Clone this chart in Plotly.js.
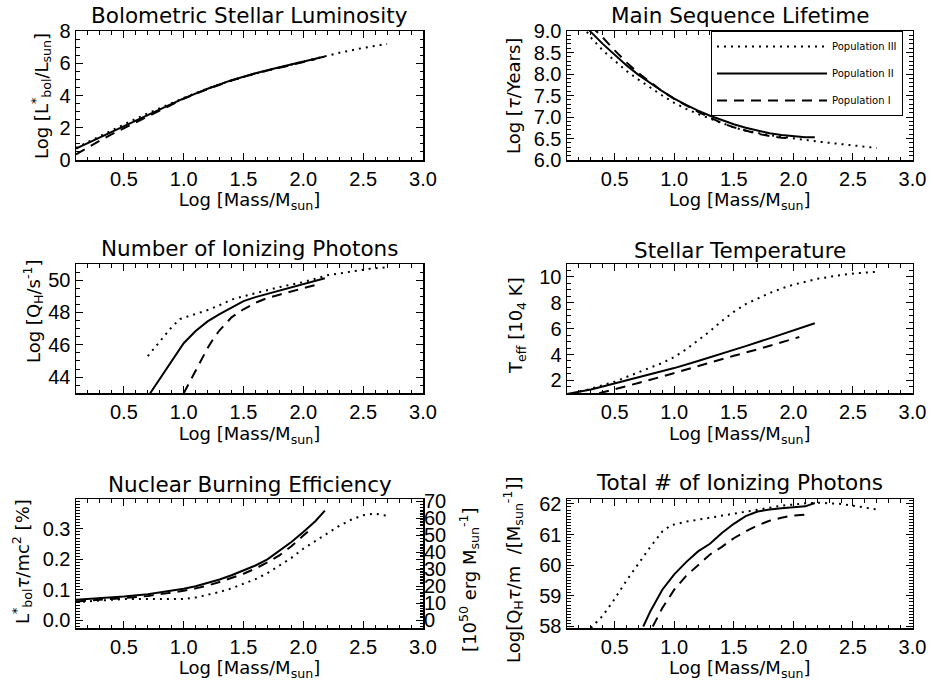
<!DOCTYPE html>
<html>
<head>
<meta charset="utf-8">
<script src="https://cdn.plot.ly/plotly-3.0.1.min.js"></script>
<style>html,body{margin:0;padding:0;background:#fff;}#chart{width:932px;height:687px;}</style>
</head>
<body>
<div id="chart"></div>
<script>
// ---------- DATA (x = Log[Mass/Msun]) ----------
// Panel 1: Bolometric stellar luminosity, Log[L/Lsun]
const lumX_III = [0.1,0.3,0.5,0.7,0.9,1.1,1.3,1.5,1.7,1.9,2.1,2.3,2.5,2.7];
const lumY_III = [0.75,1.5,2.2,2.9,3.55,4.15,4.7,5.15,5.55,5.92,6.27,6.65,6.95,7.2];
const lumX_II  = [0.1,0.2,0.3,0.4,0.5,0.6,0.7,0.8,0.9,1.0,1.2,1.4,1.6,1.8,2.0,2.18];
const lumY_II  = [0.7,1.05,1.42,1.78,2.12,2.46,2.8,3.14,3.48,3.82,4.42,4.95,5.38,5.75,6.1,6.42];
const lumX_I   = [0.1,0.2,0.3,0.4,0.5,0.6,0.7,0.8,0.9,1.0,1.2,1.4,1.6,1.8,2.0,2.1];
const lumY_I   = [0.35,0.8,1.2,1.6,1.97,2.35,2.72,3.08,3.44,3.8,4.4,4.93,5.37,5.74,6.08,6.25];

// Panel 2: Main sequence lifetime, Log[tau/yr]
const tauX_III = [0.2,0.3,0.4,0.5,0.6,0.7,0.8,0.9,1.0,1.1,1.2,1.3,1.4,1.5,1.6,1.8,2.0,2.2,2.4,2.6,2.7];
const tauY_III = [9.25,8.85,8.55,8.3,8.07,7.87,7.68,7.5,7.33,7.19,7.07,6.96,6.86,6.76,6.68,6.58,6.5,6.43,6.37,6.31,6.28];
const tauX_II  = [0.2,0.3,0.4,0.5,0.6,0.7,0.8,0.9,1.0,1.1,1.2,1.3,1.4,1.5,1.6,1.7,1.8,1.9,2.0,2.1,2.18];
const tauY_II  = [9.3,8.98,8.7,8.44,8.2,7.98,7.78,7.6,7.43,7.28,7.15,7.03,6.93,6.83,6.75,6.68,6.62,6.58,6.55,6.53,6.53];
const tauX_I   = [0.3,0.4,0.5,0.6,0.7,0.8,0.9,1.0,1.1,1.2,1.3,1.4,1.5,1.6,1.7,1.8,1.9,2.0];
const tauY_I   = [9.12,8.85,8.55,8.27,8.02,7.8,7.6,7.42,7.26,7.12,6.99,6.86,6.76,6.68,6.61,6.56,6.52,6.5];

// Panel 3: Number of ionizing photons, Log[Q_H/s^-1]
const qX_III = [0.7,0.8,0.9,0.97,1.1,1.2,1.3,1.4,1.5,1.6,1.7,1.8,1.9,2.0,2.2,2.4,2.55,2.7];
const qY_III = [45.3,46.2,47.1,47.6,47.9,48.15,48.45,48.8,49.0,49.2,49.4,49.57,49.73,49.88,50.3,50.55,50.7,50.8];
const qX_II  = [0.72,0.8,0.9,1.0,1.1,1.2,1.3,1.4,1.5,1.6,1.7,1.8,1.9,2.0,2.1,2.18];
const qY_II  = [43.0,43.9,45.0,46.1,46.85,47.45,47.9,48.3,48.7,48.95,49.15,49.35,49.55,49.72,49.92,50.12];
const qX_I   = [1.0,1.05,1.1,1.15,1.2,1.25,1.3,1.4,1.5,1.6,1.7,1.8,1.9,2.0,2.1];
const qY_I   = [43.0,43.7,44.4,45.1,45.8,46.4,46.9,47.7,48.2,48.6,48.9,49.1,49.3,49.5,49.7];

// Panel 4: Stellar temperature, T_eff [10^4 K]
const tX_III = [0.15,0.3,0.5,0.7,0.9,1.0,1.1,1.2,1.3,1.4,1.5,1.6,1.7,1.8,1.9,2.0,2.2,2.4,2.55,2.7];
const tY_III = [1.0,1.35,1.9,2.6,3.35,3.8,4.4,5.1,5.8,6.6,7.3,7.9,8.35,8.75,9.1,9.4,9.85,10.15,10.3,10.4];
const tX_II  = [0.1,0.2,0.3,0.4,0.5,0.6,0.7,0.8,0.9,1.0,1.2,1.4,1.6,1.8,2.0,2.18];
const tY_II  = [0.95,1.1,1.3,1.52,1.75,2.0,2.25,2.5,2.73,2.95,3.5,4.05,4.65,5.25,5.85,6.42];
const tX_I   = [0.37,0.5,0.7,0.9,1.1,1.3,1.5,1.7,1.9,2.05];
const tY_I   = [1.0,1.3,1.8,2.3,2.85,3.35,3.9,4.4,4.95,5.35];

// Panel 5: Nuclear burning efficiency, L*tau/mc^2 [%]
const eX_III = [0.1,0.3,0.5,0.7,0.9,1.0,1.1,1.2,1.3,1.4,1.5,1.6,1.7,1.8,1.9,2.0,2.1,2.2,2.3,2.4,2.5,2.6,2.7];
const eY_III = [0.06,0.066,0.07,0.07,0.069,0.07,0.075,0.083,0.093,0.105,0.12,0.135,0.155,0.18,0.205,0.235,0.26,0.285,0.31,0.33,0.345,0.35,0.343];
const eX_II  = [0.1,0.3,0.5,0.7,0.9,1.0,1.1,1.2,1.3,1.4,1.5,1.6,1.7,1.8,1.9,2.0,2.1,2.18];
const eY_II  = [0.068,0.072,0.078,0.086,0.097,0.104,0.112,0.122,0.134,0.148,0.163,0.18,0.2,0.228,0.257,0.29,0.325,0.36];
const eX_I   = [0.1,0.3,0.5,0.7,0.9,1.0,1.1,1.2,1.3,1.4,1.5,1.6,1.7,1.8,1.9,2.0,2.05];
const eY_I   = [0.062,0.067,0.073,0.08,0.09,0.097,0.105,0.114,0.126,0.139,0.153,0.17,0.19,0.213,0.243,0.278,0.295];
const effToErg = 178.9; // 1% of Msun c^2 = 178.9 x 1e50 erg

// Panel 6: Total number of ionizing photons, Log[Q_H tau / m]
const nX_III = [0.3,0.4,0.5,0.6,0.7,0.8,0.9,0.97,1.1,1.3,1.5,1.7,1.9,2.1,2.2,2.4,2.55,2.7];
const nY_III = [57.95,58.35,58.9,59.5,60.05,60.6,61.1,61.3,61.42,61.55,61.68,61.82,61.94,62.02,62.04,62.0,61.9,61.82];
const nX_II  = [0.74,0.8,0.9,1.0,1.1,1.2,1.3,1.4,1.5,1.6,1.7,1.8,1.9,2.0,2.1,2.18];
const nY_II  = [58.0,58.5,59.2,59.7,60.1,60.45,60.7,61.05,61.35,61.6,61.75,61.82,61.86,61.88,61.92,62.03];
const nX_I   = [0.82,0.9,1.0,1.1,1.2,1.3,1.4,1.5,1.6,1.7,1.8,1.9,2.0,2.1];
const nY_I   = [58.0,58.6,59.2,59.65,60.0,60.35,60.6,60.88,61.1,61.3,61.45,61.55,61.62,61.65];

const popNames = ['Population III','Population II','Population I'];

// ---------- STYLES ----------
const styles = [
  {color:'black', width:2, dash:'2px,5px'},
  {color:'black', width:2, dash:'solid'},
  {color:'black', width:2, dash:'10px,7px'}
];

const panels = [
  {xs:[lumX_III,lumX_II,lumX_I], ys:[lumY_III,lumY_II,lumY_I], ax:''},
  {xs:[tauX_III,tauX_II,tauX_I], ys:[tauY_III,tauY_II,tauY_I], ax:'2', legend:true},
  {xs:[qX_III,qX_II,qX_I], ys:[qY_III,qY_II,qY_I], ax:'3'},
  {xs:[tX_III,tX_II,tX_I], ys:[tY_III,tY_II,tY_I], ax:'4'},
  {xs:[eX_III,eX_II,eX_I], ys:[eY_III,eY_II,eY_I], ax:'5'},
  {xs:[nX_III,nX_II,nX_I], ys:[nY_III,nY_II,nY_I], ax:'6'}
];

const traces = [];
panels.forEach(p => {
  for (let i = 0; i < 3; i++) {
    traces.push({
      type:'scatter', mode:'lines',
      x:p.xs[i], y:p.ys[i],
      xaxis:'x'+p.ax, yaxis:'y'+p.ax,
      name:popNames[i], showlegend:!!p.legend,
      legendgroup:'g'+i,
      line:styles[i]
    });
  }
});
// efficiency in 1e50 erg per Msun, carried by the right-hand axis of panel 5 (transparent)
traces.push({
  type:'scatter', mode:'lines', x:eX_II, y:eY_II.map(v => v * effToErg),
  xaxis:'x7', yaxis:'y7', showlegend:false, opacity:0,
  line:{color:'black', width:0.1}
});

// ---------- LAYOUT ----------
const W = 932, H = 687;
const px = v => v / W, py = v => 1 - v / H;
const colX = [[px(76), px(423)], [px(567), px(912.5)]];
const rowY = [[py(160), py(31)], [py(393.3), py(264)], [py(628), py(499.3)]];

const tickFont = {family:'Liberation Sans, Arial, sans-serif', size:20, color:'black'};
const titleFont = {family:'DejaVu Sans, sans-serif', size:21.5, color:'black'};
const axFont = {family:'DejaVu Sans, sans-serif', size:18, color:'black'};

function xAxis(col, anchor) {
  return {
    domain:colX[col], anchor:anchor, range:[0.1,3.0],
    tickmode:'array', tickvals:[0.5,1.0,1.5,2.0,2.5,3.0], tickformat:'.1f',
    ticks:'inside', ticklen:7, tickwidth:1, tickcolor:'black',
    minor:{ticks:'inside', ticklen:3.5, dtick:0.1, tickcolor:'black', tickwidth:1},
    showline:true, linewidth:1.5, linecolor:'black', mirror:'ticks',
    showgrid:false, zeroline:false, tickfont:tickFont,
    title:{text:'Log [Mass/M<sub>sun</sub>]', font:axFont, standoff:4}
  };
}
function yAxis(row, anchor, range, dtick, minor, fmt) {
  const a = {
    domain:rowY[row], anchor:anchor, range:range, dtick:dtick,
    ticks:'inside', ticklen:7, tickwidth:1, tickcolor:'black',
    minor:{ticks:'inside', ticklen:3.5, dtick:minor, tickcolor:'black', tickwidth:1},
    showline:true, linewidth:1.5, linecolor:'black', mirror:'ticks',
    showgrid:false, zeroline:false, tickfont:tickFont
  };
  if (fmt) a.tickformat = fmt;
  return a;
}

const layout = {
  width:W, height:H, margin:{l:0,r:0,t:0,b:0},
  paper_bgcolor:'white', plot_bgcolor:'rgba(0,0,0,0)',
  showlegend:true,
  legend:{x:px(711), xanchor:'left', y:py(31), yanchor:'top',
          bordercolor:'black', borderwidth:1, bgcolor:'white',
          font:{family:'DejaVu Sans, sans-serif', size:10, color:'black'},
          itemwidth:110, tracegroupgap:8, traceorder:'grouped'},
  xaxis: xAxis(0,'y'),   yaxis: yAxis(0,'x', [0,8], 2, 0.5),
  xaxis2:xAxis(1,'y2'),  yaxis2:yAxis(0,'x2',[6,9], 0.5, 0.1, '.1f'),
  xaxis3:xAxis(0,'y3'),  yaxis3:yAxis(1,'x3',[43,51], 2, 0.5),
  xaxis4:xAxis(1,'y4'),  yaxis4:yAxis(1,'x4',[1,11], 2, 0.5),
  xaxis5:xAxis(0,'y5'),  yaxis5:yAxis(2,'x5',[-0.025,0.397], 0.1, 0.01, '.1f'),
  xaxis6:xAxis(1,'y6'),  yaxis6:yAxis(2,'x6',[57.95,62.15], 1, 0.1),
  xaxis7:{domain:colX[0], anchor:'y7', range:[0.1,3.0], visible:false},
  yaxis7:{
    domain:rowY[2], anchor:'x7', side:'right',
    range:[-0.025*effToErg, 0.397*effToErg], dtick:10,
    ticks:'inside', ticklen:7, tickwidth:1, tickcolor:'black',
    minor:{ticks:'inside', ticklen:3.5, dtick:2, tickcolor:'black', tickwidth:1},
    showline:false, showgrid:false, zeroline:false, tickfont:tickFont
  },
  annotations:[]
};

const panelTitles = [
  ['Bolometric Stellar Luminosity', 249.5, 16],
  ['Main Sequence Lifetime', 739.5, 16],
  ['Number of Ionizing Photons', 249.5, 248],
  ['Stellar Temperature', 739.5, 250],
  ['Nuclear Burning Efficiency', 249.5, 484],
  ['Total # of Ionizing Photons', 739.5, 482]
];
panelTitles.forEach(t => layout.annotations.push({
  xref:'paper', yref:'paper', x:px(t[1]), y:py(t[2]), text:t[0], showarrow:false,
  xanchor:'center', yanchor:'middle', font:titleFont
}));

const yTitles = [
  ['Log [L<sup>*</sup><sub>bol</sub>/L<sub>sun</sub>]', 41, 96],
  ['Log [<i>τ</i>/Years]', 513, 96],
  ['Log [Q<sub>H</sub>/s<sup>-1</sup>]', 33, 311],
  ['T<sub>eff</sub> [10<sub>4</sub> K]', 517, 326],
  ['L<sup>*</sup><sub>bol</sub><i>τ</i>/mc<sup>2</sup> [%]', 22, 562],
  ['Log[Q<sub>H</sub><i>τ</i>/m  /[M<sub>sun</sub><sup>-1</sup>]]', 513, 570],
  ['[10<sup>50</sup> erg M<sub>sun</sub><sup>-1</sup>]', 469, 580]
];
yTitles.forEach(t => layout.annotations.push({
  xref:'paper', yref:'paper', x:px(t[1]), y:py(t[2]), text:t[0], showarrow:false,
  textangle:-90, xanchor:'center', yanchor:'middle', font:axFont
}));

Plotly.newPlot('chart', traces, layout, {staticPlot:true});
</script>
</body>
</html>
